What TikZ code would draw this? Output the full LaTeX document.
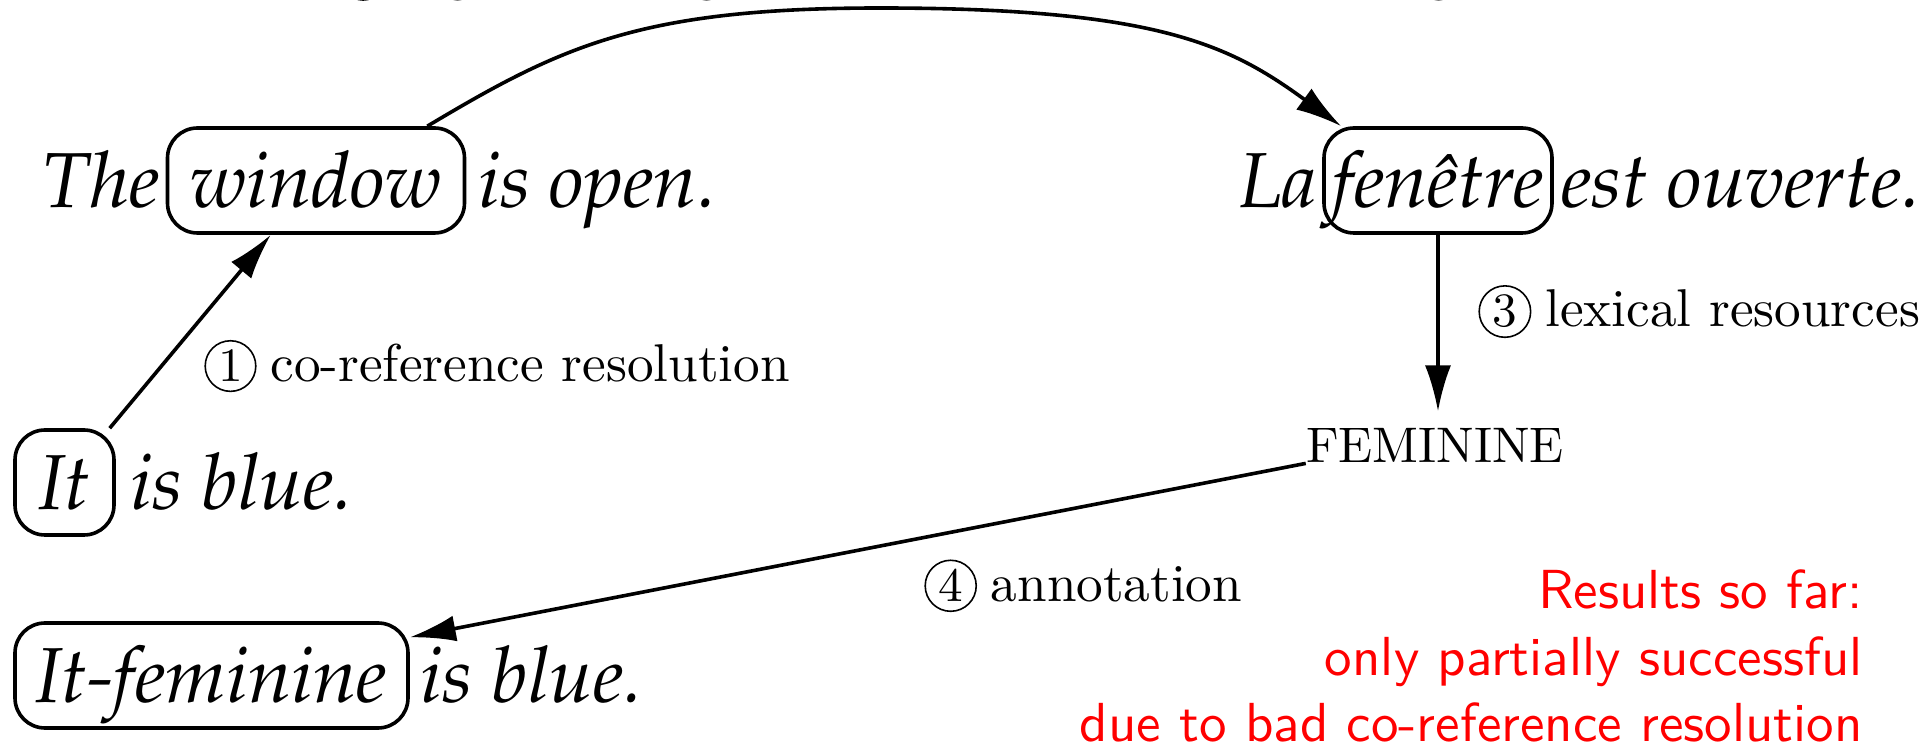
\documentclass[tikz,border=0pt]{standalone}
\usepackage[T1,TU]{fontenc}
\usepackage{graphicx}
\usetikzlibrary{arrows.meta}

% Palatino italic for the example sentences
\newcommand{\palit}{\fontencoding{T1}\fontfamily{ppl}\fontshape{it}\fontsize{39}{45}\selectfont}
% 10pt text blown up, keeps the heavier 10pt design
\newcommand{\scaledtext}[2]{\scalebox{#1}{\fontsize{10}{12}\selectfont #2}}
\newcommand{\circnum}[1]{\tikz[baseline=(cn.base)]\node[draw,circle,inner sep=0.7pt,line width=0.3pt,font=\fontsize{9}{10}\selectfont](cn){#1};\hspace{2.6pt}}

\tikzset{
  sent/.style={font=\palit, inner sep=0pt},
  wordbox/.style={draw, line width=1.8pt, rounded corners=15pt, font=\palit,
    inner xsep=0pt, inner ysep=0pt, text height=40pt, text depth=12.5pt, anchor=base},
  lbl/.style={inner sep=0pt, anchor=base west},
  arr/.style={line width=1.8pt, -{Latex[length=23pt,width=13pt]}},
  note/.style={text=red, inner sep=0pt, anchor=base east},
}

\begin{document}
\begin{tikzpicture}[x=0.5pt,y=0.5pt]
\useasboundingbox (0,0) rectangle (1919,745);

% step 2 caption (runs above the top edge)
\node[lbl] (title) at (340,753)
  {\scaledtext{2.315}{\circnum{2}alignment using Moses, then word-to-word mapping}};

% English source sentence
\node[sent, anchor=base east] (the) at (160,537) {The};
\node[wordbox] (window) at (316,537) {\makebox[148.5pt]{window}};
\node[sent, anchor=base west] (isopen) at (478,537) {is open.};

% French translation
\node[sent, anchor=base east] (la) at (1318,537) {La};
\node[wordbox] (fenetre) at (1438,537) {\makebox[114pt]{fen\^etre}};
\node[sent, anchor=base west] (ouverte) at (1561,537) {est ouverte.};

% pronoun sentence
\node[wordbox] (it) at (64.5,235) {\makebox[49.5pt]{It}};
\node[sent, anchor=base west] (isblue) at (130,235) {is blue.};

% annotated sentence
\node[wordbox] (itfem) at (211.5,42) {\makebox[196.5pt]{It-feminine}};
\node[sent, anchor=base west] (isbluefem) at (420,42) {is blue.};

% gender from the lexicon
\node[inner sep=0pt, anchor=base] (feminine) at (1435,282) {\scaledtext{2.5}{FEMININE}};

% step labels
\node[lbl] (step1) at (204,363) {\scaledtext{2.66}{\circnum{1}co-reference resolution}};
\node[lbl] (step3) at (1478,418) {\scaledtext{2.66}{\circnum{3}lexical resources}};
\node[lbl] (step4) at (924,143) {\scaledtext{2.66}{\circnum{4}annotation}};

% connectors
\coordinate (arctop) at (880,737);
\draw[arr] (it) -- (window);
\draw[arr] ([xshift=-19.5pt]window.north east)
  .. controls +(134,80) and (640,737) .. (arctop)
  .. controls (1160,737) and +(-110,80) .. ([xshift=9.5pt]fenetre.north west);
\draw[arr, shorten >=8.5pt] (fenetre.south) -- (fenetre.south |- feminine.north);
\draw[arr] (feminine.south west) -- (itfem);

% remark
\node[note] (res1) at (1863,136) {\scaledtext{2.75}{\sffamily Results so far:}};
\node[note] (res2) at (1863,69) {\scaledtext{2.75}{\sffamily only partially successful}};
\node[note] (res3) at (1863,3) {\scaledtext{2.75}{\sffamily due to bad co-reference resolution}};
\end{tikzpicture}
\end{document}
